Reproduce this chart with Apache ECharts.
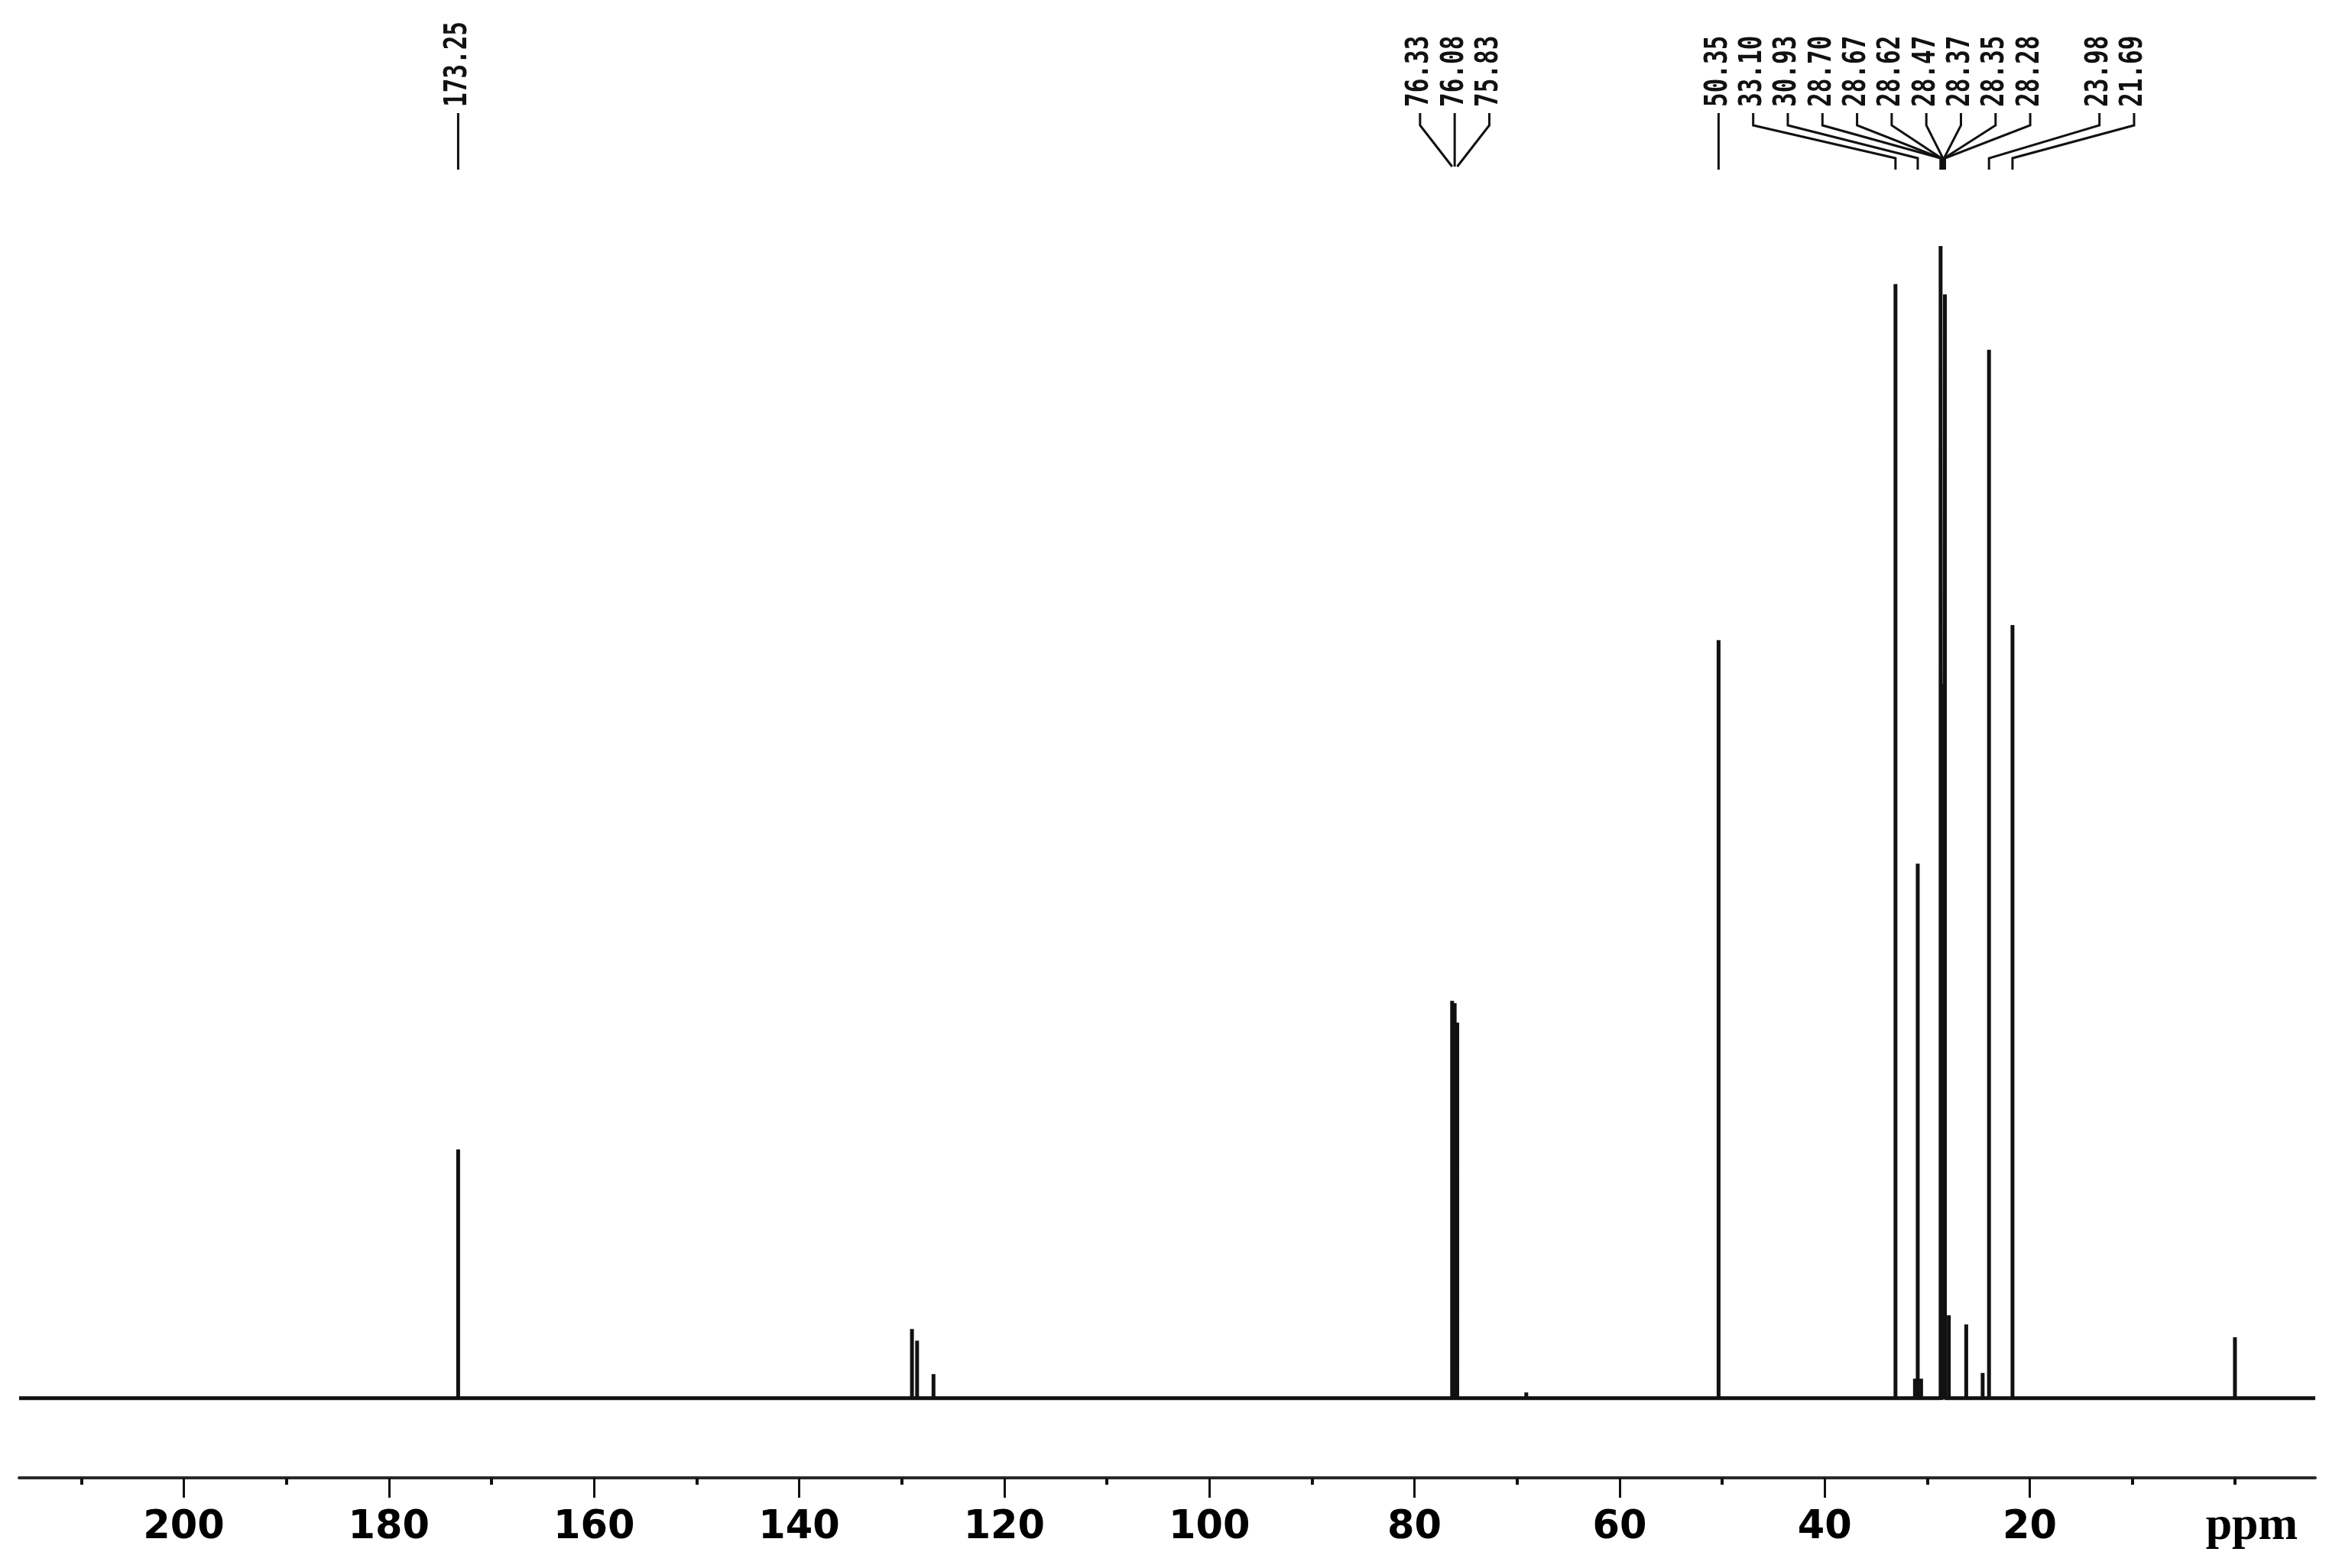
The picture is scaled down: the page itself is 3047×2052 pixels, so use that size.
<!DOCTYPE html>
<html>
<head>
<meta charset="utf-8">
<script src="https://cdn.jsdelivr.net/npm/echarts@6/dist/echarts.min.js"></script>
<style>
html,body{margin:0;padding:0;background:#fff;}
#chart{width:3047px;height:2052px;}
</style>
</head>
<body>
<div id="chart"></div>
<script>
// ---- data (13C NMR spectrum) ----
const peakPpm    = [173.25, 129.0, 128.5, 126.9, 76.33, 76.08, 75.83, 69.1, 50.35, 33.10, 31.2, 30.93, 30.6, 28.70, 28.67, 28.62, 28.47, 28.37, 28.35, 28.28, 27.9, 26.2, 24.6, 23.98, 21.69, 0.0];
const peakHeight = [21.6,   6.0,   5.0,   2.1,   34.5,  34.3,  32.6,  0.5,  65.8,  96.7,  1.7,  46.4,  1.7,  100,   62,    57,    57,    60,    58,    95.8,  7.2,  6.4,  2.2,  91.0,  67.1,  5.3];

const labelText  = ['173.25','76.33','76.08','75.83','50.35','33.10','30.93','28.70','28.67','28.62','28.47','28.37','28.35','28.28','23.98','21.69'];
const labelGroup = [0, 1, 1, 1, 2, 2, 2, 2, 2, 2, 2, 2, 2, 2, 2, 2];
const labelSlot  = [0, 0, 1, 2, 0, 1, 2, 3, 4, 5, 6, 7, 8, 9, 11, 12];
const groupAnchorPpm  = [173.25, 76.08, 50.35];
const groupCenterSlot = [0, 1, 0];

const majorTicks = [20, 40, 60, 80, 100, 120, 140, 160, 180, 200];
const minorTicks = [0, 10, 30, 50, 70, 90, 110, 130, 150, 170, 190, 210];
const unitLabel = 'ppm';

// ---- build spectrum polyline (stick peaks on baseline) ----
const X_MIN = -7.83, X_MAX = 216.06;
const order = peakPpm.map((p, i) => i).sort((a, b) => peakPpm[b] - peakPpm[a]);
const spectrum = [[X_MAX, 0]];
order.forEach(i => {
  spectrum.push([peakPpm[i], 0]);
  spectrum.push([peakPpm[i], peakHeight[i]]);
  spectrum.push([peakPpm[i], 0]);
});
spectrum.push([X_MIN, 0]);

const labelData = labelText.map((t, i) => [parseFloat(t), labelGroup[i], labelSlot[i], i]);

const SLOT = 45.3;
const Y_TXT = 140, Y_L0 = 148, Y_L1 = 164, Y_L2 = 207, Y_L3 = 222;

const chart = echarts.init(document.getElementById('chart'), null, {renderer: 'canvas'});
chart.setOption({
  animation: false,
  backgroundColor: '#ffffff',
  grid: {left: 25, right: 18, top: 322, bottom: 192},
  xAxis: [{
    type: 'value', inverse: true, min: X_MIN, max: X_MAX, position: 'bottom', offset: 74,
    axisLine: {show: true, onZero: false, lineStyle: {color: '#2a2a2a', width: 4}},
    axisTick: {show: true, customValues: majorTicks, length: 26, lineStyle: {color: '#111', width: 3}},
    axisLabel: {show: true, customValues: majorTicks, margin: 40,
      fontFamily: 'DejaVu Sans', fontWeight: 'bold', fontSize: 51, color: '#000'},
    splitLine: {show: false}
  }, {
    type: 'value', inverse: true, min: X_MIN, max: X_MAX, position: 'bottom', offset: 74,
    axisLine: {show: false, onZero: false},
    axisTick: {show: true, customValues: minorTicks, length: 9, lineStyle: {color: '#111', width: 4}},
    axisLabel: {show: true, customValues: [0], margin: 33, formatter: () => unitLabel,
      padding: [0, 0, 0, 44],
      fontFamily: 'Liberation Serif', fontWeight: 'bold', fontSize: 62, color: '#000'},
    splitLine: {show: false}
  }],
  yAxis: {type: 'value', min: -2, max: 100, show: false, splitLine: {show: false}},
  series: [{
    type: 'line', xAxisIndex: 0, yAxisIndex: 0, data: spectrum,
    showSymbol: false, symbol: 'none', clip: false,
    lineStyle: {color: '#111', width: 5}, z: 2
  }, {
    type: 'custom', xAxisIndex: 0, yAxisIndex: 0, data: labelData, clip: false,
    renderItem: function (params, api) {
      const ppm = api.value(0), g = api.value(1), s = api.value(2), idx = api.value(3);
      const px = api.coord([ppm, 0])[0];
      const ax = api.coord([groupAnchorPpm[g], 0])[0];
      const lx = ax + (s - groupCenterSlot[g]) * SLOT;
      const endY = g === 1 ? 218 : Y_L3;
      const pts = (Math.abs(lx - px) < 2)
        ? [[lx, Y_L0], [lx, endY]]
        : (g === 1 ? [[lx, Y_L0], [lx, Y_L1], [px, endY]]
                   : [[lx, Y_L0], [lx, Y_L1], [px, Y_L2], [px, endY]]);
      return {
        type: 'group',
        children: [{
          type: 'polyline',
          shape: {points: pts},
          style: {stroke: '#111', lineWidth: 3, fill: null}
        }, {
          type: 'text',
          x: lx, y: Y_TXT, rotation: Math.PI / 2, scaleY: 1.3,
          style: {text: labelText[idx], fontFamily: 'DejaVu Sans Mono', fontWeight: 'bold',
                  fontSize: 31, fill: '#111', align: 'left', verticalAlign: 'middle'}
        }]
      };
    },
    z: 3
  }]
});
</script>
</body>
</html>
